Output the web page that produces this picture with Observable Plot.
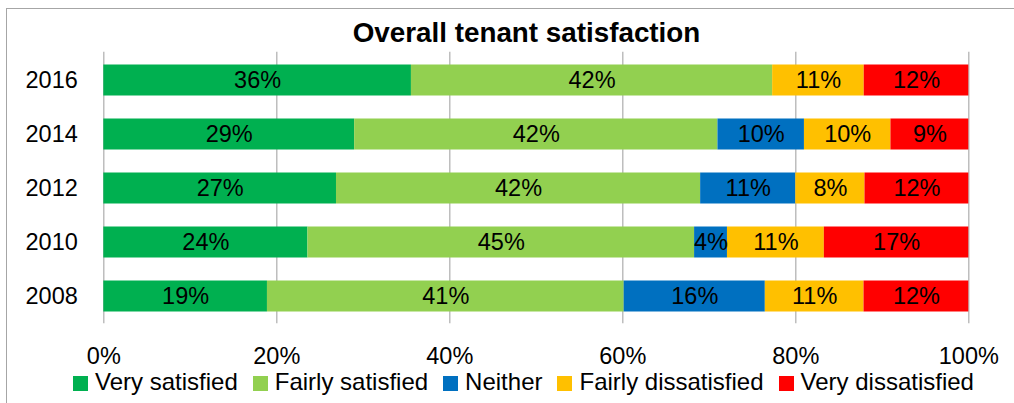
<!DOCTYPE html>
<html>
<head>
<meta charset="utf-8">
<script src="https://cdn.jsdelivr.net/npm/d3@7"></script>
<script src="https://cdn.jsdelivr.net/npm/@observablehq/plot@0.6"></script>
<style>
  html, body { margin: 0; padding: 0; background: #fff; }
  body { width: 1014px; height: 403px; position: relative; overflow: hidden; font-family: "Liberation Sans", Arial, sans-serif; }
  #frame { position: absolute; left: 6px; top: 8px; width: 1200px; height: 600px; border-left: 1px solid #a6a6a6; border-top: 1px solid #a6a6a6; pointer-events: none; }
  #title { padding-top: 19px; padding-left: 39px; height: 28px; line-height: 28px; font-size: 27.8px; font-weight: bold; text-align: center; color: #000; }
  #chart svg { display: block; }
  #legend { display: flex; align-items: center; margin-top: 2px; height: 24px; line-height: 24px; font-size: 24px; padding-left: 73px; color: #000; white-space: nowrap; }
  .item { display: flex; align-items: center; margin-right: 15px; }
  .sw { width: 15px; height: 15px; margin-right: 7px; position: relative; top: 1px; }
</style>
</head>
<body>
<div id="frame"></div>
<div id="title">Overall tenant satisfaction</div>
<div id="chart"></div>
<div id="legend"></div>
<script>
const years = ["2016", "2014", "2012", "2010", "2008"];
const categories = ["Very satisfied", "Fairly satisfied", "Neither", "Fairly dissatisfied", "Very dissatisfied"];
const colors = ["#00B050", "#92D050", "#0070C0", "#FFC000", "#FF0000"];
const verySatisfied      = [35.6, 29.0, 26.9, 23.6, 18.9];
const fairlySatisfied    = [41.8, 42.0, 42.1, 44.7, 41.2];
const neither            = [0.0, 10.0, 11.0, 3.8, 16.3];
const fairlyDissatisfied = [10.6, 10.0, 8.0, 11.2, 11.4];
const veryDissatisfied   = [12.1, 9.0, 12.0, 16.7, 12.1];
const xTicks = [0, 0.2, 0.4, 0.6, 0.8, 1];

const series = [verySatisfied, fairlySatisfied, neither, fairlyDissatisfied, veryDissatisfied];
const table = [];
categories.forEach((cat, ci) => {
  years.forEach((year, yi) => {
    table.push({year, cat, value: series[ci][yi]});
  });
});

const font = "'Liberation Sans', Arial, sans-serif";
const pct = d3.format(".0%");

const chart = Plot.plot({
  width: 1014,
  height: 321,
  marginLeft: 103.3,
  marginRight: 45.7,
  marginTop: 4.7,
  marginBottom: 44.7,
  style: {fontFamily: font, fontSize: "23.5px", background: "transparent", color: "#000", overflow: "visible"},
  x: {domain: [0, 1], ticks: xTicks, tickFormat: pct, label: null},
  y: {domain: years, padding: 0, label: null},
  color: {domain: categories, range: colors},
  marks: [
    Plot.gridX(xTicks, {stroke: "#b3b3b3", strokeOpacity: 1, strokeWidth: 1.3}),
    Plot.barX(table, Plot.stackX({x: "value", y: "year", z: "cat", fill: "cat", offset: "normalize", insetTop: 11.5, insetBottom: 11.5})),
    Plot.text(table.filter(d => d.value > 0), Plot.stackX({x: "value", y: "year", z: "cat", offset: "normalize", text: d => Math.round(d.value) + "%", fill: "#000", fontSize: 23.5, fontFamily: font})),
    Plot.axisX({ticks: xTicks, tickSize: 0, tickPadding: 24, tickFormat: pct, fontSize: 23.5, fill: "#000", label: null}),
    Plot.axisY({tickSize: 0, tickPadding: 26, fontSize: 23.5, fill: "#000", label: null})
  ]
});
document.getElementById("chart").appendChild(chart);

const legend = document.getElementById("legend");
categories.forEach((cat, i) => {
  const item = document.createElement("div");
  item.className = "item";
  const sw = document.createElement("span");
  sw.className = "sw";
  sw.style.background = colors[i];
  const label = document.createElement("span");
  label.textContent = cat;
  item.appendChild(sw);
  item.appendChild(label);
  legend.appendChild(item);
});
</script>
</body>
</html>
